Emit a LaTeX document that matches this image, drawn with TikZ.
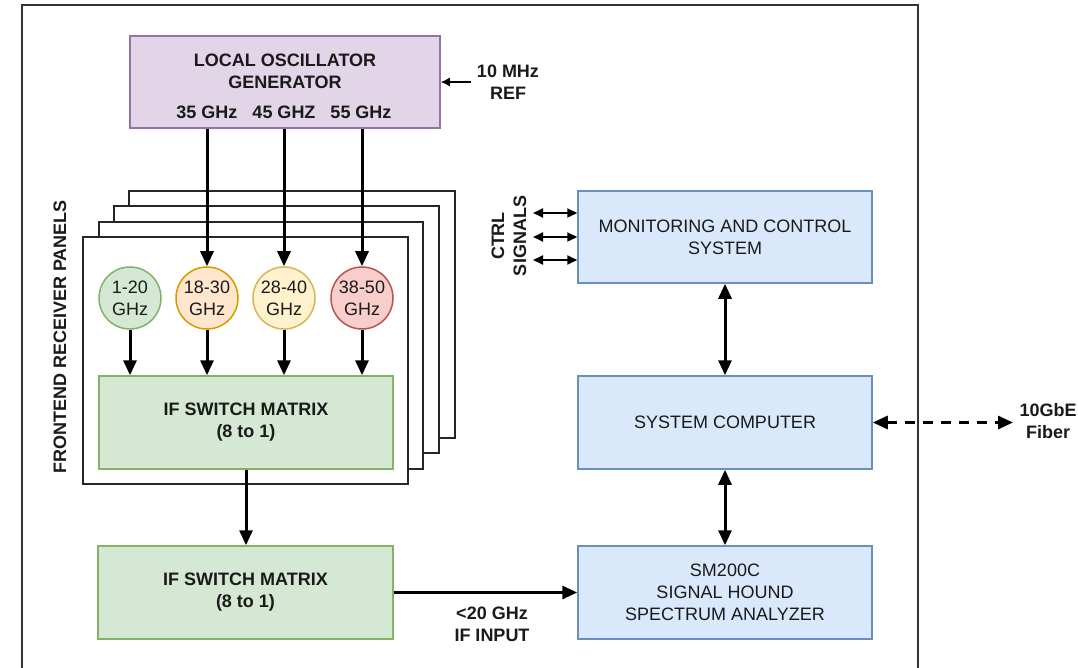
\documentclass[tikz,border=0pt]{standalone}
\usepackage{fontspec}
\setmainfont{Liberation Sans}
\usetikzlibrary{arrows.meta}
\definecolor{lofill}{HTML}{E1D5E7}\definecolor{lostroke}{HTML}{9673A6}
\definecolor{gfill}{HTML}{D5E8D4}\definecolor{gstroke}{HTML}{82B366}
\definecolor{ofill}{HTML}{FFE6CC}\definecolor{ostroke}{HTML}{D79B00}
\definecolor{yfill}{HTML}{FFF2CC}\definecolor{ystroke}{HTML}{D6B656}
\definecolor{rfill}{HTML}{F8CECC}\definecolor{rstroke}{HTML}{B85450}
\definecolor{bfill}{HTML}{DAE8FC}\definecolor{bstroke}{HTML}{6C8EBF}
\definecolor{txt}{HTML}{1A1A1A}
\begin{document}
\begin{tikzpicture}[x=1pt,y=-1pt,
  every node/.style={font=\fontsize{18}{22}\selectfont, text=txt, align=center, inner sep=0pt},
  bld/.style={font=\fontsize{18}{22}\selectfont\bfseries},
  box/.style={draw, line width=1.5pt, minimum width=#1, minimum height=93pt},
  lobox/.style={box=310pt, fill=lofill, draw=lostroke, minimum height=92pt},
  greenbox/.style={box=295pt, fill=gfill, draw=gstroke},
  bluebox/.style={box=294pt, fill=bfill, draw=bstroke},
  band/.style={circle, draw, line width=1.5pt, minimum size=62pt},
  panel/.style={draw=black!85, line width=2pt, fill=white},
  tip/.style={},
  arr/.style={line width=3pt, -{Triangle[length=15pt,width=13pt]}},
  darr/.style={line width=3pt, {Triangle[length=15pt,width=13pt]}-{Triangle[length=15pt,width=13pt]}},
  tarr/.style={line width=1.8pt, {Triangle[length=10pt,width=9pt]}-{Triangle[length=10pt,width=9pt]}},
  dasharr/.style={line width=3pt, dash pattern=on 10pt off 8pt, {Triangle[length=15pt,width=13pt]}-{Triangle[length=15pt,width=13pt]}},
  refarr/.style={line width=1.4pt, -{Latex[length=9pt,width=9pt]}}
]
\useasboundingbox (0,0) rectangle (1078,668);
\fill[white] (0,0) rectangle (1078,668);
% outer frame
\draw[line width=2pt, black!80] (22,668) -- (22,5) -- (918,5) -- (918,668);

% local oscillator
\node[lobox] (lo) at (285,82) {};
\node[bld] (lotxt) at (285,71) {LOCAL OSCILLATOR\\GENERATOR};
\node[bld] (f35) at (207,112) {35 GHz};
\node[bld] (f45) at (284,112) {45 GHZ};
\node[bld] (f55) at (361,112) {55 GHz};
\coordinate (ref) at (471,82);
\node[bld] (reftxt) at (508,82) {10 MHz\\REF};
\draw[refarr] (ref) -- (lo.east);

% receiver panels
\draw[panel] (129,191) rectangle (455,438);
\draw[panel] (114,206) rectangle (439,453);
\draw[panel] (99,222) rectangle (423,469);
\draw[panel] (83,237) rectangle (408,484);
\node[bld, rotate=90] (frontend) at (60,337) {FRONTEND RECEIVER PANELS};

\node[band, fill=gfill, draw=gstroke] (c1) at (130,298) {1-20\\GHz};
\node[band, fill=ofill, draw=ostroke] (c2) at (207,298) {18-30\\GHz};
\node[band, fill=yfill, draw=ystroke] (c3) at (284,298) {28-40\\GHz};
\node[band, fill=rfill, draw=rstroke] (c4) at (362,298) {38-50\\GHz};

\node[greenbox, minimum width=294pt] (sw1) at (246,422.5) {};
\node[bld] (sw1txt) at (246,422.5) {IF SWITCH MATRIX\\(8 to 1)};
\node[greenbox] (sw2) at (245.5,592.5) {};
\node[bld] (sw2txt) at (245.5,592.5) {IF SWITCH MATRIX\\(8 to 1)};

\draw[arr] (lo.south -| c2.north) -- (c2.north);
\draw[arr] (lo.south -| c3.north) -- (c3.north);
\draw[arr] (lo.south -| c4.north) -- (c4.north);
\foreach \c in {c1,c2,c3,c4} \draw[arr] (\c.south) -- (sw1.north -| \c.south);
\draw[arr] (sw1.south) -- (sw1.south |- sw2.north);

% right column
\node[bluebox, minimum height=92pt] (mon) at (725,237) {MONITORING AND CONTROL\\SYSTEM};
\node[bluebox] (comp) at (725,422.5) {SYSTEM COMPUTER};
\node[bluebox] (sm) at (725,592.5) {SM200C\\SIGNAL HOUND\\SPECTRUM ANALYZER};

\draw[darr] (mon.south) -- (comp.north);
\draw[darr] (comp.south) -- (sm.north);

\coordinate (k1) at (533,213);
\coordinate (k2) at (533,237);
\coordinate (k3) at (533,260);
\draw[tarr] (k1) -- (k1 -| mon.west);
\draw[tarr] (k2) -- (k2 -| mon.west);
\draw[tarr] (k3) -- (k3 -| mon.west);
\node[bld, rotate=90] (ctrl) at (509,236) {CTRL\\SIGNALS};

\draw[arr] (sw2.east) -- (sw2.east -| sm.west);
\node[bld] (iftxt) at (492,624) {<20 GHz\\IF INPUT};

\coordinate (fib) at (1013,422.5);
\draw[dasharr] (comp.east) -- (fib);
\node[bld] (fibtxt) at (1048,421) {10GbE\\Fiber};
\end{tikzpicture}
\end{document}
